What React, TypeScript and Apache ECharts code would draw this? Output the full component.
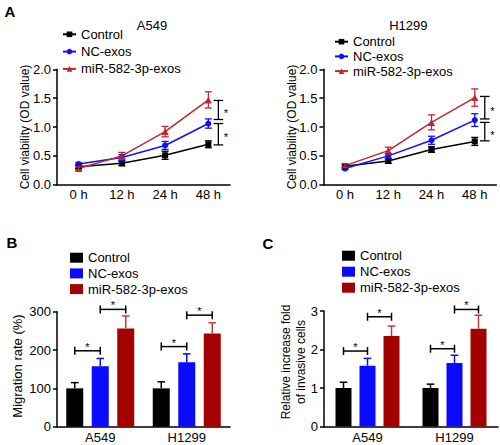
import React, { useEffect, useRef } from "react";
import * as echarts from "echarts";

// ---------- data ----------
const timeLabels = ["0 h", "12 h", "24 h", "48 h"];
const groupNames = ["Control", "NC-exos", "miR-582-3p-exos"];

const a549Control = [0.31, 0.37, 0.51, 0.7];
const a549ControlErr = [0.03, 0.04, 0.07, 0.06];
const a549NC = [0.36, 0.47, 0.68, 1.06];
const a549NCErr = [0.02, 0.05, 0.07, 0.08];
const a549Mir = [0.28, 0.5, 0.92, 1.47];
const a549MirErr = [0.03, 0.06, 0.09, 0.14];

const h1299Control = [0.32, 0.41, 0.61, 0.75];
const h1299ControlErr = [0.03, 0.04, 0.05, 0.07];
const h1299NC = [0.28, 0.5, 0.77, 1.12];
const h1299NCErr = [0.02, 0.04, 0.07, 0.11];
const h1299Mir = [0.33, 0.59, 1.08, 1.51];
const h1299MirErr = [0.03, 0.06, 0.13, 0.15];

// brackets at 48 h: [categoryIndex, from value, to value]
const a549Brackets = [
  [3, 1.46, 1.13],
  [3, 1.06, 0.69],
];
const h1299Brackets = [
  [3, 1.53, 1.14],
  [3, 1.08, 0.76],
];

const cellLines = ["A549", "H1299"];
const migControl = [100, 100];
const migControlErr = [15, 17];
const migNC = [158, 168];
const migNCErr = [20, 22];
const migMir = [256, 243];
const migMirErr = [33, 28];
// [category, fromBar, toBar, y]
const migBrackets = [
  [0, 0, 1, 198],
  [0, 1, 2, 306],
  [1, 0, 1, 209],
  [1, 1, 2, 291],
];

const invControl = [1.0, 1.0];
const invControlErr = [0.15, 0.1];
const invNC = [1.58, 1.65];
const invNCErr = [0.19, 0.2];
const invMir = [2.35, 2.54];
const invMirErr = [0.26, 0.35];
const invBrackets = [
  [0, 0, 1, 1.96],
  [0, 1, 2, 2.85],
  [1, 0, 1, 2.02],
  [1, 1, 2, 3.04],
];

// ---------- style ----------
const FONT = "Liberation Sans, Arial, sans-serif";
const BLACK = "#000000";
const BLUE = "#1010ff";
const RED_LINE = "#c0282d";
const BAR_BLACK = "#000000";
const BAR_BLUE = "#0a0aff";
const BAR_RED = "#a30000";
const ERR_RED = "#c23b3b";

function errLine(color: string) {
  return (params: any, api: any) => {
    const x = api.value(0);
    const v = api.value(1);
    const e = api.value(2);
    const top = api.coord([x, v + e]);
    const bot = api.coord([x, v - e]);
    const hw = 3.5;
    const style = { stroke: color, lineWidth: 1.3 };
    return {
      type: "group",
      children: [
        { type: "line", shape: { x1: top[0], y1: top[1], x2: bot[0], y2: bot[1] }, style },
        { type: "line", shape: { x1: top[0] - hw, y1: top[1], x2: top[0] + hw, y2: top[1] }, style },
        { type: "line", shape: { x1: bot[0] - hw, y1: bot[1], x2: bot[0] + hw, y2: bot[1] }, style },
      ],
    };
  };
}

function errBar(color: string, offset: number) {
  return (params: any, api: any) => {
    const x = api.value(0);
    const v = api.value(1);
    const e = api.value(2);
    const b = api.coord([x, v]);
    const t = api.coord([x, v + e]);
    const cx = b[0] + offset;
    const hw = 3.8;
    const style = { stroke: color, lineWidth: 1.5 };
    return {
      type: "group",
      children: [
        { type: "line", shape: { x1: cx, y1: b[1], x2: cx, y2: t[1] }, style },
        { type: "line", shape: { x1: cx - hw, y1: t[1], x2: cx + hw, y2: t[1] }, style },
      ],
    };
  };
}

function sideBracket(offset: number) {
  return (params: any, api: any) => {
    const x = api.value(0);
    const p1 = api.coord([x, api.value(1)]);
    const p2 = api.coord([x, api.value(2)]);
    const cx = p1[0] + offset;
    const hw = 4.8;
    const style = { stroke: BLACK, lineWidth: 1.3 };
    return {
      type: "group",
      children: [
        { type: "line", shape: { x1: cx, y1: p1[1], x2: cx, y2: p2[1] }, style },
        { type: "line", shape: { x1: cx - hw, y1: p1[1], x2: cx + hw, y2: p1[1] }, style },
        { type: "line", shape: { x1: cx - hw, y1: p2[1], x2: cx + hw, y2: p2[1] }, style },
        {
          type: "text",
          x: cx + 7.5,
          y: (p1[1] + p2[1]) / 2 + 3,
          style: { text: "*", fontSize: 11, fontFamily: FONT, fill: BLACK, align: "center", verticalAlign: "middle" },
        },
      ],
    };
  };
}

function topBracket(pitch: number) {
  return (params: any, api: any) => {
    const c = api.value(0);
    const from = api.value(1);
    const to = api.value(2);
    const y = api.value(3);
    const p = api.coord([c, y]);
    const x1 = p[0] + (from - 1) * pitch;
    const x2 = p[0] + (to - 1) * pitch;
    const hh = 4;
    const style = { stroke: BLACK, lineWidth: 1.5 };
    return {
      type: "group",
      children: [
        { type: "line", shape: { x1, y1: p[1], x2, y2: p[1] }, style },
        { type: "line", shape: { x1, y1: p[1] - hh, x2: x1, y2: p[1] + hh }, style },
        { type: "line", shape: { x1: x2, y1: p[1] - hh, x2, y2: p[1] + hh }, style },
        {
          type: "text",
          x: (x1 + x2) / 2,
          y: p[1] - 4,
          style: { text: "*", fontSize: 11, fontFamily: FONT, fill: BLACK, align: "center", verticalAlign: "middle" },
        },
      ],
    };
  };
}

const axisLineStyle = { color: BLACK, width: 1.5 };
const labelStyle = { fontSize: 13, color: BLACK, fontFamily: FONT };

function lineXAxis(gridIndex: number) {
  return {
    type: "category",
    gridIndex,
    data: timeLabels,
    boundaryGap: true,
    axisLine: { lineStyle: axisLineStyle },
    axisTick: { alignWithLabel: true, length: 4, lineStyle: axisLineStyle },
    axisLabel: { ...labelStyle, margin: 3 },
  };
}

function barXAxis(gridIndex: number) {
  return {
    type: "category",
    gridIndex,
    data: cellLines,
    boundaryGap: true,
    axisLine: { lineStyle: axisLineStyle },
    axisTick: { show: false },
    axisLabel: { ...labelStyle, margin: 4 },
  };
}

function valueYAxis(gridIndex: number, max: number, interval: number, digits: number) {
  return {
    type: "value",
    gridIndex,
    min: 0,
    max,
    interval,
    axisLine: { show: true, lineStyle: axisLineStyle },
    axisTick: { show: true, length: 4, lineStyle: axisLineStyle },
    splitLine: { show: false },
    axisLabel: { ...labelStyle, margin: 6, formatter: (v: number) => v.toFixed(digits) },
  };
}

function lineSeries(name: string, data: number[], color: string, symbol: string, size: number, gi: number) {
  return {
    type: "line",
    name,
    xAxisIndex: gi,
    yAxisIndex: gi,
    data,
    symbol,
    symbolSize: size,
    lineStyle: { color, width: 1.5 },
    itemStyle: { color },
    z: 3,
  };
}

function errSeries(vals: number[], errs: number[], color: string, gi: number) {
  return {
    type: "custom",
    xAxisIndex: gi,
    yAxisIndex: gi,
    renderItem: errLine(color),
    data: vals.map((v, i) => [i, v, errs[i]]),
    encode: { x: 0, y: 1 },
    z: 4,
    silent: true,
  };
}

function barSeries(name: string, data: number[], color: string, gi: number, width: number) {
  return {
    type: "bar",
    name,
    xAxisIndex: gi,
    yAxisIndex: gi,
    data,
    barWidth: width,
    barGap: "50%",
    itemStyle: { color },
    z: 2,
  };
}

function barErrSeries(vals: number[], errs: number[], color: string, gi: number, offset: number) {
  return {
    type: "custom",
    xAxisIndex: gi,
    yAxisIndex: gi,
    renderItem: errBar(color, offset),
    data: vals.map((v, i) => [i, v, errs[i]]),
    encode: { x: 0, y: 1 },
    z: 3,
    silent: true,
  };
}

function bracketSeries(data: number[][], gi: number, pitch: number) {
  return {
    type: "custom",
    xAxisIndex: gi,
    yAxisIndex: gi,
    renderItem: topBracket(pitch),
    data,
    encode: { x: 0, y: 3 },
    clip: false,
    z: 5,
    silent: true,
  };
}

function sideSeries(data: number[][], gi: number) {
  return {
    type: "custom",
    xAxisIndex: gi,
    yAxisIndex: gi,
    renderItem: sideBracket(10),
    data,
    encode: { x: 0, y: 1 },
    clip: false,
    z: 5,
    silent: true,
  };
}

function lineLegend(left: number, top: number, gap: number) {
  return {
    orient: "vertical",
    left,
    top,
    itemWidth: 13,
    itemHeight: 7,
    itemGap: gap,
    selectedMode: false,
    padding: 0,
    textStyle: { ...labelStyle, lineHeight: 13 },
    data: groupNames,
  };
}

function barLegend(left: number, top: number, gap: number) {
  const colors = [BAR_BLACK, BAR_BLUE, BAR_RED];
  return {
    orient: "vertical",
    left,
    top,
    itemWidth: 13,
    itemHeight: 10,
    itemGap: gap,
    selectedMode: false,
    padding: 0,
    textStyle: { ...labelStyle, lineHeight: 13 },
    data: groupNames.map((n, i) => ({ name: n, icon: "rect", itemStyle: { color: colors[i] } })),
  };
}

function txt(text: string, x: number, y: number, extra: any = {}) {
  return {
    type: "text",
    x,
    y,
    rotation: extra.rotation || 0,
    style: {
      text,
      fontSize: extra.fontSize || 13,
      fontWeight: extra.fontWeight || "normal",
      fontFamily: FONT,
      fill: BLACK,
      align: "center",
      verticalAlign: "middle",
      lineHeight: extra.lineHeight || undefined,
    },
  };
}

export default function App() {
  const ref = useRef<HTMLDivElement>(null);
  useEffect(() => {
    if (!ref.current) return;
    const chart = echarts.init(ref.current, null, { renderer: "svg" });
    const option: any = {
      animation: false,
      backgroundColor: "#ffffff",
      grid: [
        { left: 57, top: 69.3, width: 173, height: 115.4 },
        { left: 323.4, top: 69.3, width: 173, height: 115.4 },
        { left: 57, top: 311.7, width: 173, height: 115 },
        { left: 324, top: 311, width: 174, height: 115.5 },
      ],
      xAxis: [lineXAxis(0), lineXAxis(1), barXAxis(2), barXAxis(3)],
      yAxis: [
        valueYAxis(0, 2, 0.5, 1),
        valueYAxis(1, 2, 0.5, 1),
        valueYAxis(2, 300, 100, 0),
        valueYAxis(3, 3, 1, 0),
      ],
      legend: [
        lineLegend(62, 27.8, 4.3),
        lineLegend(334, 35.2, 1.7),
        barLegend(70, 251.2, 2.7),
        barLegend(342, 249.2, 3),
      ],
      graphic: [
        txt("A", 10, 11.5, { fontSize: 15, fontWeight: "bold" }),
        txt("B", 12, 242, { fontSize: 15, fontWeight: "bold" }),
        txt("C", 268, 243.3, { fontSize: 15, fontWeight: "bold" }),
        txt("A549", 152, 25),
        txt("H1299", 408.3, 25),
        txt("Cell viability (OD value)", 25, 127, { rotation: Math.PI / 2, fontSize: 12 }),
        txt("Cell viability (OD value)", 291.7, 127, { rotation: Math.PI / 2, fontSize: 12 }),
        txt("Migration rate (%)", 17, 366, { rotation: Math.PI / 2 }),
        txt("Relative increase fold\nof invasive cells", 293, 362, {
          rotation: Math.PI / 2,
          fontSize: 12,
          lineHeight: 15,
        }),
      ],
      series: [
        lineSeries("Control", a549Control, BLACK, "rect", 6, 0),
        lineSeries("NC-exos", a549NC, BLUE, "circle", 6, 0),
        lineSeries("miR-582-3p-exos", a549Mir, RED_LINE, "triangle", 7, 0),
        errSeries(a549Control, a549ControlErr, BLACK, 0),
        errSeries(a549NC, a549NCErr, BLUE, 0),
        errSeries(a549Mir, a549MirErr, RED_LINE, 0),
        sideSeries(a549Brackets, 0),

        lineSeries("Control", h1299Control, BLACK, "rect", 6, 1),
        lineSeries("NC-exos", h1299NC, BLUE, "circle", 6, 1),
        lineSeries("miR-582-3p-exos", h1299Mir, RED_LINE, "triangle", 7, 1),
        errSeries(h1299Control, h1299ControlErr, BLACK, 1),
        errSeries(h1299NC, h1299NCErr, BLUE, 1),
        errSeries(h1299Mir, h1299MirErr, RED_LINE, 1),
        sideSeries(h1299Brackets, 1),

        barSeries("Control", migControl, BAR_BLACK, 2, 17),
        barSeries("NC-exos", migNC, BAR_BLUE, 2, 17),
        barSeries("miR-582-3p-exos", migMir, BAR_RED, 2, 17),
        barErrSeries(migControl, migControlErr, BLACK, 2, -25.5),
        barErrSeries(migNC, migNCErr, BAR_BLUE, 2, 0),
        barErrSeries(migMir, migMirErr, ERR_RED, 2, 25.5),
        bracketSeries(migBrackets, 2, 25.5),

        barSeries("Control", invControl, BAR_BLACK, 3, 16),
        barSeries("NC-exos", invNC, BAR_BLUE, 3, 16),
        barSeries("miR-582-3p-exos", invMir, BAR_RED, 3, 16),
        barErrSeries(invControl, invControlErr, BLACK, 3, -24),
        barErrSeries(invNC, invNCErr, BAR_BLUE, 3, 0),
        barErrSeries(invMir, invMirErr, ERR_RED, 3, 24),
        bracketSeries(invBrackets, 3, 24),
      ],
    };
    chart.setOption(option);
    return () => chart.dispose();
  }, []);
  return (
    <div
      ref={ref}
      style={{ position: "absolute", left: 0, top: 0, width: 500, height: 445, background: "#fff" }}
    />
  );
}
